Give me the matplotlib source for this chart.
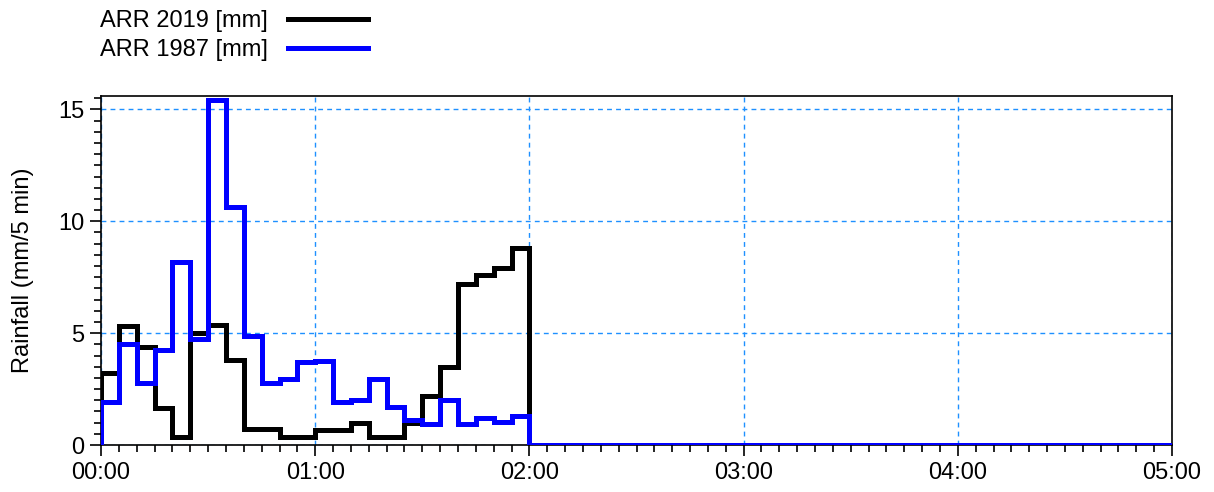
import numpy as np
import matplotlib
matplotlib.use('Agg')
import matplotlib.pyplot as plt
from matplotlib.ticker import MultipleLocator, FuncFormatter

plt.rcParams['font.family'] = ['Liberation Sans', 'DejaVu Sans']

# 5分钟时段起点 (分钟)
t_start = [0, 5, 10, 15, 20, 25, 30, 35, 40, 45, 50, 55,
           60, 65, 70, 75, 80, 85, 90, 95, 100, 105, 110, 115]
t_end = 120
t_total = 300

arr2019 = [3.2, 5.3, 4.4, 1.65, 0.37, 5.0, 5.35, 3.8, 0.7, 0.7, 0.37, 0.37,
           0.67, 0.67, 1.0, 0.37, 0.37, 1.0, 2.2, 3.5, 7.2, 7.6, 7.9, 8.8]
arr1987 = [1.93, 4.5, 2.75, 4.25, 8.2, 4.75, 15.4, 10.65, 4.85, 2.75, 2.97, 3.7,
           3.75, 1.93, 2.0, 2.93, 1.7, 1.1, 0.93, 2.0, 0.93, 1.2, 1.05, 1.3]

labels = ['ARR 2019 [mm]', 'ARR 1987 [mm]']
colors = ['black', '#0000ff']


def step_xy(vals):
    x = [t_start[0]] + t_start + [t_end, t_total]
    y = [0] + vals + [0, 0]
    return x, y


fig = plt.figure(figsize=(12.14, 4.92), dpi=100)
ax = fig.add_axes([101 / 1214, 1 - 445 / 492, (1172 - 101) / 1214, (445 - 96) / 492])

for vals, lab, c in zip([arr2019, arr1987], labels, colors):
    x, y = step_xy(vals)
    ax.step(x, y, where='post', color=c, lw=3.6, label=lab,
            solid_joinstyle='miter', zorder=3)

ax.set_xlim(0, t_total)
ax.set_ylim(0, 15.6)
ax.xaxis.set_major_locator(MultipleLocator(60))
ax.xaxis.set_minor_locator(MultipleLocator(5))
ax.yaxis.set_major_locator(MultipleLocator(5))
ax.yaxis.set_minor_locator(MultipleLocator(0.5))
ax.xaxis.set_major_formatter(FuncFormatter(lambda v, p: '%02d:%02d' % (v // 60, v % 60)))

ax.tick_params(axis='both', which='major', length=8, width=1.2, labelsize=17, pad=4)
ax.tick_params(axis='both', which='minor', length=5, width=1.2)
for s in ax.spines.values():
    s.set_linewidth(1.2)

ax.grid(True, which='major', color='#1e90ff', linestyle=(0, (3.5, 3)), lw=1.0)
ax.set_axisbelow(True)

ax.set_ylabel('Rainfall (mm/5 min)', fontsize=17, labelpad=17)

fig.legend(loc='upper left', bbox_to_anchor=(100 / 1214, 1 - 10 / 492),
           frameon=False, markerfirst=False, fontsize=17, handlelength=3.4,
           handletextpad=0.85, labelspacing=0.3, borderpad=0, borderaxespad=0)

plt.savefig('out.png', dpi=100)
